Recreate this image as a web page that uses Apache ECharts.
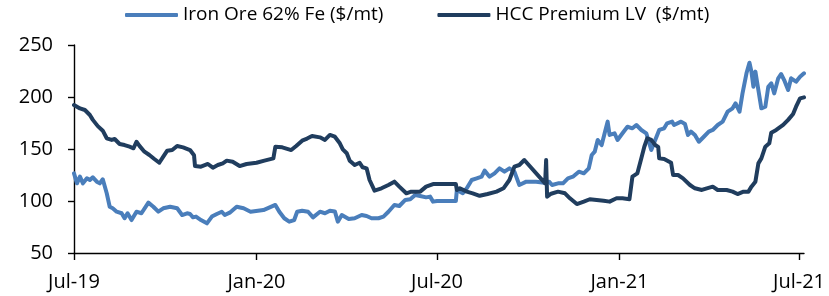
<!DOCTYPE html>
<html>
<head>
<meta charset="utf-8">
<script src="https://cdn.jsdelivr.net/npm/echarts@6/dist/echarts.min.js"></script>
<style>
html,body{margin:0;padding:0;background:#fff;}
#chart{width:829px;height:296px;}
</style>
</head>
<body>
<div id="chart"></div>
<script>
var seriesNames = ['Iron Ore 62% Fe ($/mt)', 'HCC Premium LV  ($/mt)'];
var axisStart = '2019-07-01';
var axisEnd = '2021-07-06';
var yTicks = [50, 100, 150, 200, 250];

var ironDates = [
'2019-07-01','2019-07-04','2019-07-07','2019-07-10','2019-07-14','2019-07-17','2019-07-20','2019-07-24','2019-07-27','2019-07-30',
'2019-08-03','2019-08-06','2019-08-09','2019-08-13','2019-08-18','2019-08-21','2019-08-24','2019-08-28',
'2019-09-02','2019-09-07','2019-09-14','2019-09-19','2019-09-24','2019-09-29',
'2019-10-06','2019-10-13','2019-10-18','2019-10-23','2019-10-26','2019-10-29',
'2019-11-01','2019-11-06','2019-11-12','2019-11-17','2019-11-22','2019-11-27','2019-11-30',
'2019-12-05','2019-12-12','2019-12-19','2019-12-26',
'2020-01-08','2020-01-20','2020-01-24','2020-01-29',
'2020-02-03','2020-02-08','2020-02-11','2020-02-16','2020-02-22','2020-02-27',
'2020-03-05','2020-03-10','2020-03-15','2020-03-20','2020-03-23','2020-03-27',
'2020-04-03','2020-04-09','2020-04-16','2020-04-21','2020-04-26',
'2020-05-03','2020-05-08','2020-05-13','2020-05-19','2020-05-24','2020-05-30',
'2020-06-04','2020-06-09','2020-06-14','2020-06-20','2020-06-24','2020-06-27',
'2020-07-01','2020-07-20','2020-07-21','2020-07-27','2020-07-31',
'2020-08-05','2020-08-10','2020-08-15','2020-08-18','2020-08-23','2020-08-28',
'2020-09-02','2020-09-07','2020-09-12','2020-09-17','2020-09-22','2020-09-29',
'2020-10-09','2020-10-17','2020-10-22','2020-10-25','2020-10-31',
'2020-11-05','2020-11-10','2020-11-15','2020-11-21','2020-11-26',
'2020-12-01','2020-12-04','2020-12-07','2020-12-10','2020-12-14','2020-12-17','2020-12-20','2020-12-22','2020-12-27','2020-12-30',
'2021-01-04','2021-01-09','2021-01-14','2021-01-18','2021-01-23','2021-01-28','2021-01-31',
'2021-02-02','2021-02-06','2021-02-10','2021-02-15','2021-02-18','2021-02-23','2021-02-25',
'2021-03-04','2021-03-08','2021-03-11','2021-03-14','2021-03-18','2021-03-22','2021-03-27',
'2021-04-01','2021-04-05','2021-04-10','2021-04-15','2021-04-20','2021-04-25','2021-04-28',
'2021-05-02','2021-05-05','2021-05-09','2021-05-12','2021-05-14','2021-05-16','2021-05-18','2021-05-21','2021-05-24','2021-05-28','2021-05-31',
'2021-06-03','2021-06-06','2021-06-10','2021-06-13','2021-06-16','2021-06-20','2021-06-23','2021-06-28',
'2021-07-02','2021-07-06'
];
var ironValues = [
126.6,117,123.4,117,121.8,120.2,122.8,118.6,117,120.9,
107.4,94.5,93,89.7,88.2,83.4,88.2,81.7,
89.7,88.2,98.4,94.5,89.7,93,
94.5,93,86.5,88.2,87.5,84.3,
85,81.7,78.5,85,87.5,89.7,86.5,
88.8,94.5,93,89.7,
91.3,96.2,89.7,83.4,
80.1,81.7,89.7,90.7,89.7,84.3,
89.7,88.2,90.7,90,80.1,86.5,
82.7,83.4,86.5,85.6,83.4,
83.4,85,89.7,96.2,95.2,101,
101.7,105.8,104.8,103.5,104.2,99.4,
100,100,110.6,107.4,112.2,
120.2,121.8,123.4,129.2,123.4,126.6,
131.4,128.2,131.4,128.2,115.4,118.6,
118.6,117.6,118.6,115.4,117,
117,121.8,123.4,128.2,126.6,
131.4,144.2,147.4,158.7,153.8,165.1,176.3,163.5,165.1,158.7,
165.1,171.4,169.9,173.1,168.3,165.1,155.5,
149,158.7,168.3,169.9,174.7,176.3,173.1,
176.3,174,163.5,166.7,163.5,157,161.8,
166.7,168.3,173.1,176.3,185.9,189.1,193.9,
185.9,203.5,222.8,233,224.4,209.9,224.4,206.7,189.1,190.7,209.9,
213.2,203.5,218,222.1,216.3,206.7,218,214.7,
219.5,222.8
];

var hccDates = [
'2019-07-01','2019-07-07','2019-07-12','2019-07-17','2019-07-20','2019-07-25','2019-07-30',
'2019-08-03','2019-08-08','2019-08-11','2019-08-16','2019-08-21','2019-08-26','2019-08-30',
'2019-09-02','2019-09-05','2019-09-10','2019-09-15','2019-09-20','2019-09-25','2019-09-29',
'2019-10-03','2019-10-08','2019-10-13','2019-10-19','2019-10-26','2019-10-30','2019-10-31',
'2019-11-06','2019-11-13','2019-11-18','2019-11-23','2019-11-28',
'2019-12-02','2019-12-08','2019-12-15','2019-12-22',
'2020-01-01','2020-01-09','2020-01-18','2020-01-20','2020-01-27',
'2020-02-05','2020-02-10','2020-02-16','2020-02-21','2020-02-26',
'2020-03-05','2020-03-10','2020-03-15','2020-03-20','2020-03-25','2020-03-28',
'2020-04-01','2020-04-04','2020-04-09','2020-04-14','2020-04-17','2020-04-21','2020-04-24','2020-04-29',
'2020-05-06','2020-05-13','2020-05-19','2020-05-24','2020-05-31',
'2020-06-05','2020-06-14','2020-06-20','2020-06-27',
'2020-07-20','2020-07-21','2020-07-24','2020-07-31',
'2020-08-06','2020-08-13','2020-08-21','2020-08-30',
'2020-09-06','2020-09-12','2020-09-17','2020-09-22','2020-09-27',
'2020-10-18','2020-10-19','2020-10-20','2020-10-24','2020-10-31',
'2020-11-07','2020-11-12','2020-11-19','2020-11-26',
'2020-12-02','2020-12-09','2020-12-16','2020-12-22','2020-12-29',
'2021-01-04','2021-01-11','2021-01-14','2021-01-19','2021-01-23','2021-01-26','2021-01-29',
'2021-02-02','2021-02-06','2021-02-09','2021-02-10','2021-02-15','2021-02-22','2021-02-24',
'2021-03-01','2021-03-06','2021-03-13','2021-03-18','2021-03-25','2021-03-30',
'2021-04-05','2021-04-10','2021-04-19','2021-04-25','2021-04-30',
'2021-05-06','2021-05-11','2021-05-14','2021-05-18','2021-05-21','2021-05-24','2021-05-28',
'2021-06-01','2021-06-03','2021-06-08','2021-06-15','2021-06-20','2021-06-25','2021-06-28',
'2021-07-02','2021-07-06'
];
var hccValues = [
192.3,189,187.5,182.7,178,172,167.6,
160.3,158.7,159.6,154.8,153.8,152.2,150.7,
157,153,147.4,144.2,140.4,136.8,142.6,
148.4,149,152.9,151.6,149,144,133.6,
133,135.6,132,134.6,136.2,
138.8,137.8,133.6,135.6,
136.8,138.8,141,152.2,151.6,
149,152.9,158,160,162.5,
161.2,158.7,163.5,161.8,155.5,149.7,
145.9,138.8,134.6,136.8,132.4,131.4,120.2,110,
112.2,115.4,118.6,113.8,107.4,
109,109,113.8,116.3,
116.3,110.6,112.2,109,
107.4,105,106.7,109,
112.2,120.2,133,134.6,139.4,
117,139.4,104.2,107,109,
107.4,102.6,97.1,99.4,
101.7,101,100.3,99.4,102.6,
102.6,101.7,123.4,126.6,141,152.2,160.3,
158.7,153.8,152,141,140.4,136.8,125,
125,121.8,115.4,112.2,110.6,112.2,
113.8,110.6,110.6,109,106.7,
109,109,113.8,118.6,136.2,141,152.2,
155.5,165.7,168.3,173.1,178,183.7,190.7,
198.7,199.7
];

// daily category axis
function buildDays(a, b) {
  var out = [];
  var d = new Date(a + 'T00:00:00Z');
  var e = new Date(b + 'T00:00:00Z');
  while (d <= e) {
    out.push(d.toISOString().slice(0, 10));
    d = new Date(d.getTime() + 86400000);
  }
  return out;
}
var days = buildDays(axisStart, axisEnd);
var monNames = ['Jan','Feb','Mar','Apr','May','Jun','Jul','Aug','Sep','Oct','Nov','Dec'];
function isTickDay(v) { return /-(01|07)-01$/.test(v); }

function pairs(ds, vs) { return ds.map(function (d, i) { return [d, vs[i]]; }); }

var font = '"Open Sans", "Liberation Sans", sans-serif';
var chart = echarts.init(document.getElementById('chart'), null, {renderer: 'canvas'});
chart.setOption({
  animation: false,
  backgroundColor: '#ffffff',
  legend: {
    left: 125, top: 5, padding: 0,
    itemWidth: 53, itemHeight: 4, itemGap: 54,
    icon: 'roundRect',
    textStyle: {fontFamily: font, fontSize: 19, color: '#000', lineHeight: 20},
    data: seriesNames
  },
  grid: {left: 74, right: 25, top: 45, bottom: 43},
  xAxis: {
    type: 'category',
    data: days,
    boundaryGap: false,
    axisLine: {lineStyle: {color: '#000', width: 1.4}},
    axisTick: {show: true, length: 7, interval: function (i, v) { return isTickDay(v); }, lineStyle: {color: '#000', width: 1.4}},
    axisLabel: {
      interval: function (i, v) { return isTickDay(v); },
      margin: 19,
      fontFamily: font, fontSize: 20, color: '#000',
      formatter: function (v) { return monNames[+v.slice(5, 7) - 1] + '-' + v.slice(2, 4); }
    },
    splitLine: {show: false}
  },
  yAxis: {
    type: 'value',
    min: yTicks[0], max: yTicks[yTicks.length - 1], interval: 50,
    axisLine: {show: true, lineStyle: {color: '#000', width: 1.4}},
    axisTick: {show: true, length: 6, lineStyle: {color: '#000', width: 1.4}},
    axisLabel: {margin: 21, fontFamily: font, fontSize: 20, color: '#000'},
    splitLine: {show: false}
  },
  series: [
    {
      name: seriesNames[0], type: 'line', color: '#4a7ebb',
      showSymbol: false, symbol: 'none',
      lineStyle: {width: 4, color: '#4a7ebb', join: 'round', cap: 'round'},
      data: pairs(ironDates, ironValues)
    },
    {
      name: seriesNames[1], type: 'line', color: '#203d5e',
      showSymbol: false, symbol: 'none',
      lineStyle: {width: 4, color: '#203d5e', join: 'round', cap: 'round'},
      data: pairs(hccDates, hccValues)
    }
  ]
});
</script>
</body>
</html>
